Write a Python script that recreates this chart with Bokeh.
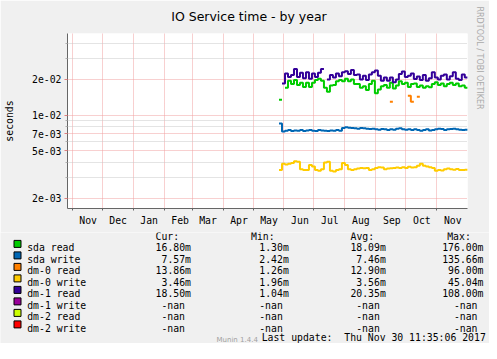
import numpy as np
import pandas as pd
from bokeh.plotting import figure
from bokeh.layouts import column
from bokeh.models import Range1d, FixedTicker, Title
from bokeh.core.properties import value
from bokeh.embed import file_html
from bokeh.resources import INLINE

nan = float("nan")

# ---------------- texts ----------------
title_text = "IO Service time - by year"
y_label = "seconds"
watermark = "RRDTOOL / TOBI OETIKER"
last_update = "Last update:\u00a0\u00a0Thu Nov 30 11:35:06 2017"
munin_version = "Munin 1.4.4"

# ---------------- time axis ----------------
origin = pd.Timestamp("2017-06-01")
view_start = pd.Timestamp("2016-10-27 07:00")
view_end = pd.Timestamp("2017-12-01 17:00")
month_starts = pd.date_range("2016-11-01", "2017-11-01", freq="MS")
month_labels = [d.strftime("%b") for d in month_starts]

# ---------------- y axis (log) ----------------
y_min, y_max = 0.001637, 0.04881
y_major = [0.02, 0.01, 0.007, 0.005, 0.002]
y_major_labels = ["2e-02", "1e-02", "7e-03", "5e-03", "2e-03"]
y_minor = [0.04, 0.03, 0.009, 0.008, 0.006, 0.004, 0.003]

# ---------------- series (ms, one value every 3 days from 2017-05-27) ----------------
series_start = pd.Timestamp("2017-05-27")
series_step_days = 3

sda_read = [13.5, nan, 17.0, 19.5, 18.3, 19.8, 18.0, 18.8, 17.3, 18.8,
            17.3, 18.8, 19.8, 20.3, 19.5, 17.0, 15.8, 17.8, 18.0, 19.3,
            19.8, 19.3, 20.3, 19.3, 20.0, 18.3, 18.3, 17.0, 17.5, 16.3,
            18.3, 19.5, 15.3, 16.5, 17.5, 18.0, 17.0, 18.8, 16.8, 17.8,
            19.3, 18.3, 18.8, 17.3, 18.3, 18.5, 17.3, 17.8, 17.0, 17.5,
            17.2, 18.3, 19.0, 18.0, 18.5, 17.5, 18.3, 18.8, 18.0, 18.5,
            17.5, 17.8, 17.0]
sda_write = [8.5, 7.3, 7.4, 7.5, 7.35, 7.45, 7.4, 7.5, 7.35, 7.45,
             7.5, 7.4, 7.35, 7.5, 7.45, 7.4, 7.35, 7.45, 7.4, 7.5,
             7.4, 7.8, 7.9, 7.85, 7.8, 7.75, 7.7, 7.8, 7.75, 7.7,
             7.65, 7.7, 7.6, 7.55, 7.65, 7.6, 7.5, 7.6, 7.55, 7.7,
             7.75, 7.6, 7.55, 7.6, 7.5, 7.6, 7.5, 7.4, 7.5, 7.6,
             7.45, 7.5, 7.6, 7.7, 7.65, 7.5, 7.6, 7.65, 7.7, 7.6,
             7.55, 7.5, 7.55]
dm0_read = [nan, nan, nan, nan, nan, nan, nan, nan, nan, nan,
            nan, nan, nan, nan, nan, nan, nan, nan, nan, nan,
            nan, nan, nan, nan, nan, nan, nan, nan, nan, nan,
            nan, nan, nan, nan, nan, nan, nan, 13.0, nan, nan,
            nan, nan, nan, 14.6, 13.0, nan, 14.3, nan, nan, nan,
            nan, nan, nan, nan, nan, nan, nan, nan, nan, nan,
            nan, nan, nan]
dm0_write = [3.45, 3.9, 3.85, 3.9, 3.95, 4.1, 4.05, 3.5, 3.45, 3.45,
             3.8, 3.7, 3.45, 3.4, 3.5, 4.0, 4.05, 3.4, 3.35, 3.45,
             3.5, 3.95, 3.8, 3.5, 3.45, 3.5, 3.55, 3.6, 3.58, 3.6,
             3.45, 3.5, 3.6, 3.65, 3.62, 3.5, 3.55, 3.58, 3.6, 3.62,
             3.6, 3.65, 3.6, 3.68, 3.62, 3.65, 3.75, 3.9, 3.75, 3.7,
             3.65, 3.6, 3.4, 3.45, 3.42, 3.5, 3.55, 3.5, 3.48, 3.52,
             3.45, 3.45, 3.48]
dm1_read = [nan, 18.5, 22.5, 21.0, 21.8, 24.5, 21.0, 22.8, 20.5, 23.0,
            20.3, 22.5, 21.0, 22.8, 24.5, nan, 20.0, 21.8, 20.8, 22.5,
            21.3, 23.0, 23.5, 22.3, 24.0, 21.8, 22.0, 20.0, 21.5, 19.8,
            22.0, 23.0, 23.8, 21.5, 19.5, 20.8, 19.5, 20.8, 19.0, 20.0,
            22.3, 23.3, 21.0, 21.5, 22.5, 20.2, 21.2, 19.8, 21.8, 19.5,
            20.5, 23.0, 20.8, 20.0, 21.5, 22.0, 20.0, 21.3, 23.0, 20.3,
            19.8, 22.0, 20.8]

# ---------------- legend ----------------
names = ["sda read", "sda write", "dm-0 read", "dm-0 write",
         "dm-1 read", "dm-1 write", "dm-2 read", "dm-2 write"]
colors = ["#00cc00", "#0066b3", "#ff8000", "#ffcc00",
          "#330099", "#990099", "#ccff00", "#ff0000"]
cur_vals = [16.80, 7.57, 13.86, 3.46, 18.50, nan, nan, nan]
min_vals = [1.30, 2.42, 1.26, 1.96, 1.04, nan, nan, nan]
avg_vals = [18.09, 7.46, 12.90, 3.56, 20.35, nan, nan, nan]
max_vals = [176.00, 135.66, 96.00, 45.04, 108.00, nan, nan, nan]
stat_headers = ["Cur:", "Min:", "Avg:", "Max:"]

# ---------------- styling / layout ----------------
BG = "#f0f0f0"
MONO = "DejaVu Sans Mono"
SANS = "DejaVu Sans"
FS = "9.8px"
MGRID = "#f0a0a0"
GRID = "#c8c8c8"
AXIS = "#666666"
W = 489
H_MAIN = 232
H_LEG = 111


def days(ts):
    return (ts - origin) / pd.Timedelta(days=1)


def step_path(vals):
    xs, ys = [], []
    x0 = days(series_start)
    for i, v in enumerate(vals):
        if v != v:
            if xs and ys[-1] == ys[-1]:
                xs.append(nan)
                ys.append(nan)
            continue
        xa = x0 + i * series_step_days
        xs += [xa, xa + series_step_days]
        ys += [v / 1000.0, v / 1000.0]
    return np.array(xs, dtype=float), np.array(ys, dtype=float)


month_pos = [int(days(d)) for d in month_starts]
label_pos = [m + 16 for m in month_pos]

p = figure(width=W, height=H_MAIN, output_backend="svg", toolbar_location=None,
           x_range=Range1d(days(view_start), days(view_end)),
           y_range=Range1d(y_min, y_max), y_axis_type="log",
           min_border_left=67, min_border_right=22, min_border_top=33, min_border_bottom=24,
           background_fill_color="white", border_fill_color=BG, outline_line_color=None)

# title (above panel)
p.title.text = title_text
p.title.text_font = SANS
p.title.text_font_size = "12.5px"
p.title.text_font_style = "normal"
p.title.text_color = "black"
p.title.align = "left"
p.title.offset = 103.7
p.title.vertical_align = "top"
p.title.standoff = 16

# watermark (right panel)
p.add_layout(Title(text=watermark, text_font=SANS, text_font_size="8px",
                   text_font_style="normal", text_color="#aaaaaa",
                   align="left", offset=-27, vertical_align="top", standoff=10), "right")

# x axis
p.xaxis.ticker = FixedTicker(ticks=label_pos, minor_ticks=month_pos)
p.xaxis.major_label_overrides = {int(k): lab for k, lab in zip(label_pos, month_labels)}
p.xaxis.major_tick_line_color = None
p.xaxis.major_tick_out = 0
p.xaxis.major_tick_in = 0
p.xaxis.minor_tick_line_color = AXIS
p.xaxis.minor_tick_out = 2
p.xaxis.minor_tick_in = 0
p.xaxis.axis_line_color = AXIS
p.xaxis.major_label_text_font = MONO
p.xaxis.major_label_text_font_size = FS
p.xaxis.major_label_text_color = "black"
p.xaxis.major_label_standoff = 4

# y axis
p.yaxis.ticker = FixedTicker(ticks=y_major, minor_ticks=y_minor)
p.yaxis.major_label_overrides = dict(zip(y_major, y_major_labels))
p.yaxis.major_tick_line_color = "#e08080"
p.yaxis.major_tick_out = 3
p.yaxis.major_tick_in = 0
p.yaxis.minor_tick_line_color = "#b0b0b0"
p.yaxis.minor_tick_out = 2
p.yaxis.minor_tick_in = 0
p.yaxis.axis_line_color = AXIS
p.yaxis.major_label_text_font = MONO
p.yaxis.major_label_text_font_size = FS
p.yaxis.major_label_text_color = "black"
p.yaxis.major_label_standoff = 3
p.yaxis.axis_label = y_label
p.yaxis.axis_label_text_font = MONO
p.yaxis.axis_label_text_font_size = FS
p.yaxis.axis_label_text_font_style = "normal"
p.yaxis.axis_label_text_color = "black"
p.yaxis.axis_label_standoff = 14

# grids
p.xgrid.ticker = FixedTicker(ticks=month_pos)
p.xgrid.grid_line_color = MGRID
p.xgrid.grid_line_dash = "1 1"
p.ygrid.ticker = FixedTicker(ticks=y_major, minor_ticks=y_minor)
p.ygrid.grid_line_color = MGRID
p.ygrid.grid_line_dash = "1 1"
p.ygrid.minor_grid_line_color = GRID
p.ygrid.minor_grid_line_dash = "1 1"

# data
for vals, col in [(sda_read, colors[0]), (sda_write, colors[1]), (dm0_read, colors[2]),
                  (dm0_write, colors[3]), (dm1_read, colors[4])]:
    xs, ys = step_path(vals)
    p.line(xs, ys, line_width=2, line_color=col)

# ---------------- legend panel (coordinates = picture pixels) ----------------
q = figure(width=W, height=H_LEG, output_backend="svg", toolbar_location=None,
           x_range=Range1d(0, W), y_range=Range1d(H_MAIN + H_LEG, H_MAIN),
           x_axis_location=None, y_axis_location=None, min_border=0,
           background_fill_color=BG, border_fill_color=BG, outline_line_color=None)
q.grid.visible = False

for f in (p, q):
    if "frame_align" in f.properties():
        f.frame_align = False

row_base = [247.0 + 11.5 * k for k in range(len(names))]
row_center = [b - 3.6 for b in row_base]

q.rect(x=17, y=row_center, width=7, height=7, fill_color=colors,
       line_color="black", line_width=1)
q.text(x=26.7, y=row_base, text=names, text_font=value(MONO), text_font_size=value(FS),
       text_color="black", text_align="left", text_baseline="alphabetic")
q.text(x=[155, 250.5, 350, 446.7], y=[236.0] * 4, text=stat_headers,
       text_font=value(MONO), text_font_size=value(FS), text_color="black",
       text_align="left", text_baseline="alphabetic")

for vals, edge in [(cur_vals, 190.5), (min_vals, 288.3), (avg_vals, 385.3), (max_vals, 483.0)]:
    txt = ["-nan" if v != v else f"{v:.2f}m" for v in vals]
    xs = [edge - 6 if v != v else edge for v in vals]
    q.text(x=xs, y=row_base, text=txt, text_font=value(MONO), text_font_size=value(FS),
           text_color="black", text_align="right", text_baseline="alphabetic")

q.text(x=[485.3], y=[336.6], text=[last_update], text_font=value(MONO),
       text_font_size=value(FS), text_color="black", text_align="right",
       text_baseline="alphabetic")
q.text(x=[216], y=[339.0], text=[munin_version], text_font=value(SANS),
       text_font_size=value("7px"), text_color="#a0a0a0", text_align="left",
       text_baseline="alphabetic")

layout = column(p, q, spacing=0)
open("out.html", "w").write(file_html(layout, INLINE))
